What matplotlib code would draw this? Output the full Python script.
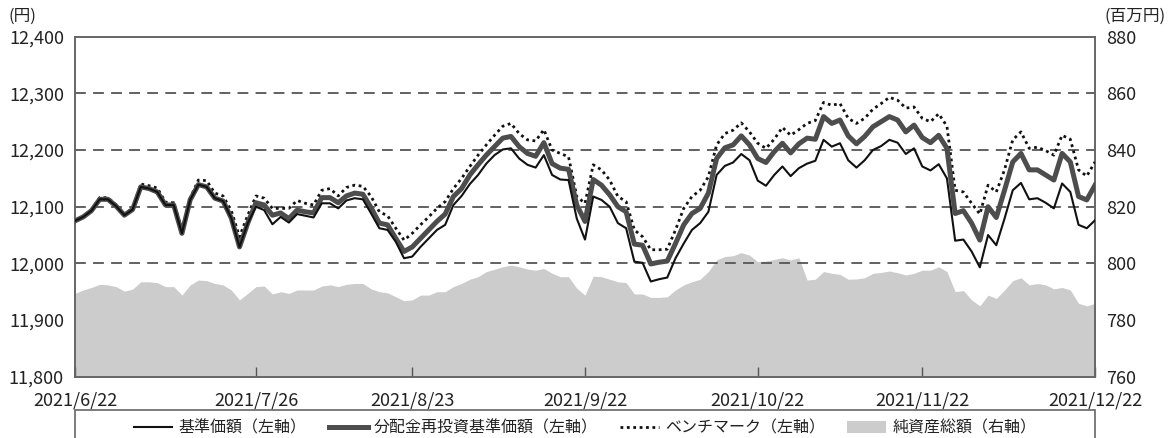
import numpy as np
import pandas as pd
import matplotlib
matplotlib.use("Agg")
import matplotlib.pyplot as plt
from matplotlib.patches import Rectangle
from matplotlib.lines import Line2D
from matplotlib.ticker import FuncFormatter

plt.rcParams['font.family'] = ['Noto Sans CJK JP', 'DejaVu Sans']

# -----------------------
# DATA
# -----------------------
holidays = ['2021-07-22', '2021-07-23', '2021-08-09', '2021-09-20',
            '2021-09-23', '2021-11-03', '2021-11-23']
dates = pd.bdate_range('2021-06-22', '2021-12-22')
dates = dates[~dates.isin(pd.to_datetime(holidays))]

tick_dates = ['2021-06-22', '2021-07-26', '2021-08-23', '2021-09-22',
              '2021-10-22', '2021-11-22', '2021-12-22']
tick_labels = ['2021/6/22', '2021/7/26', '2021/8/23', '2021/9/22',
               '2021/10/22', '2021/11/22', '2021/12/22']

# 基準価額
nav = [12075, 12082, 12093, 12113, 12113, 12101, 12085, 12095, 12135, 12132,
       12126, 12103, 12103, 12053, 12112, 12139, 12135, 12115, 12110, 12080,
       12029, 12071, 12100, 12094, 12069, 12082, 12072, 12087, 12084, 12081,
       12106, 12106, 12097, 12111, 12115, 12113, 12088, 12062, 12059, 12038,
       12009, 12012, 12029, 12044, 12059, 12068, 12103, 12119, 12140, 12156,
       12176, 12191, 12201, 12203, 12185, 12174, 12169, 12191, 12156, 12148,
       12147, 12079, 12042, 12118, 12112, 12100, 12071, 12062, 12003, 12001,
       11968, 11972, 11975, 12009, 12035, 12059, 12071, 12091, 12156, 12172,
       12178, 12193, 12182, 12146, 12137, 12156, 12171, 12154, 12168, 12176,
       12181, 12218, 12206, 12212, 12182, 12169, 12182, 12200, 12207, 12218,
       12213, 12193, 12203, 12171, 12164, 12175, 12150, 12040, 12042, 12021,
       11993, 12050, 12032, 12079, 12129, 12142, 12113, 12115, 12107, 12097,
       12141, 12126, 12068, 12062, 12076]

# 分配金再投資基準価額
nav_reinv = [12075, 12082, 12093, 12113, 12113, 12101, 12085, 12095, 12135, 12132,
             12126, 12103, 12103, 12053, 12112, 12139, 12135, 12115, 12110, 12080,
             12029, 12071, 12107, 12103, 12085, 12089, 12079, 12094, 12091, 12089,
             12116, 12116, 12107, 12119, 12124, 12122, 12098, 12071, 12068, 12044,
             12021, 12029, 12044, 12059, 12074, 12087, 12118, 12132, 12156, 12174,
             12191, 12206, 12221, 12224, 12206, 12194, 12189, 12213, 12176, 12168,
             12166, 12103, 12074, 12148, 12138, 12121, 12100, 12091, 12034, 12032,
             11999, 12002, 12004, 12035, 12068, 12088, 12097, 12124, 12185, 12204,
             12209, 12225, 12209, 12185, 12178, 12197, 12212, 12195, 12211, 12221,
             12219, 12259, 12247, 12253, 12225, 12211, 12224, 12241, 12250, 12259,
             12253, 12232, 12244, 12222, 12213, 12226, 12203, 12088, 12093, 12071,
             12041, 12100, 12081, 12129, 12179, 12194, 12165, 12165, 12156, 12147,
             12194, 12179, 12118, 12112, 12138]

# ベンチマーク
bench = [12076, 12083, 12094, 12116, 12116, 12103, 12087, 12097, 12140, 12137,
         12133, 12108, 12107, 12058, 12115, 12147, 12146, 12124, 12119, 12093,
         12047, 12085, 12119, 12115, 12097, 12097, 12097, 12111, 12106, 12103,
         12129, 12132, 12119, 12134, 12138, 12136, 12118, 12091, 12084, 12062,
         12041, 12053, 12068, 12082, 12097, 12109, 12132, 12150, 12171, 12191,
         12209, 12226, 12242, 12247, 12229, 12218, 12216, 12236, 12200, 12194,
         12188, 12118, 12106, 12174, 12165, 12147, 12118, 12109, 12059, 12047,
         12024, 12024, 12025, 12059, 12097, 12118, 12129, 12153, 12209, 12229,
         12235, 12248, 12232, 12212, 12203, 12219, 12240, 12226, 12236, 12247,
         12252, 12284, 12279, 12282, 12256, 12247, 12256, 12272, 12282, 12293,
         12288, 12274, 12276, 12256, 12250, 12264, 12242, 12129, 12126, 12106,
         12087, 12138, 12126, 12165, 12218, 12232, 12203, 12205, 12199, 12191,
         12226, 12219, 12165, 12154, 12179]

# 純資産総額（百万円）
assets = [789.4, 790.6, 791.5, 792.6, 792.4, 791.8, 790.2, 790.9, 793.5, 793.5,
          793.2, 791.8, 791.8, 788.8, 792.4, 794.1, 793.9, 792.9, 792.4, 790.6,
          787.1, 789.4, 791.8, 792.0, 789.2, 790.0, 789.4, 790.6, 790.6, 790.6,
          792.0, 792.4, 791.8, 792.6, 792.9, 792.9, 791.0, 790.0, 789.6, 788.2,
          786.8, 787.1, 788.8, 788.8, 790.0, 790.0, 791.8, 792.9, 794.4, 795.3,
          797.1, 797.9, 798.8, 799.4, 798.8, 798.0, 797.6, 798.2, 796.5, 795.3,
          795.3, 791.2, 788.8, 795.5, 795.3, 794.4, 793.5, 793.2, 789.2, 789.2,
          788.0, 788.0, 788.2, 790.6, 792.4, 793.5, 794.4, 797.1, 801.2, 802.4,
          802.7, 803.8, 802.9, 800.6, 800.8, 801.4, 802.0, 801.2, 802.0, 794.1,
          794.4, 797.1, 796.5, 796.1, 794.4, 794.5, 794.9, 796.5, 796.8, 797.3,
          796.7, 795.9, 796.5, 797.6, 797.6, 798.8, 797.1, 790.0, 790.4, 787.1,
          785.0, 788.8, 787.6, 790.6, 793.9, 794.9, 792.4, 792.9, 792.4, 791.0,
          791.5, 790.6, 785.9, 785.0, 785.9]

labels = ['基準価額（左軸）', '分配金再投資基準価額（左軸）',
          'ベンチマーク（左軸）', '純資産総額（右軸）']

# -----------------------
# FIGURE
# -----------------------
W, H = 1175, 438
fig = plt.figure(figsize=(W / 100, H / 100), dpi=100)
ax = fig.add_axes([75 / W, 1 - 376.7 / H, 1020 / W, 340 / H])
ax2 = ax.twinx()
ax.set_zorder(ax2.get_zorder() + 1)
ax.patch.set_visible(False)

x = np.arange(len(dates))

# area on the right axis
ax2.fill_between(x, 760, assets, color='#cccccc', lw=0)
ax2.set_ylim(760, 880)
ax2.set_yticks(np.arange(760, 881, 20))

# grid lines (only inside the range)
for g in [12000, 12100, 12200, 12300]:
    ax.axhline(g, color='#555555', lw=1.3, ls=(0, (6, 4)), zorder=1)

ax.plot(x, bench, color='#111111', lw=2.0, ls=(0, (1, 1.3)), zorder=3)
ax.plot(x, nav_reinv, color='#4d4d4d', lw=3.6, zorder=4)
ax.plot(x, nav, color='#111111', lw=1.5, zorder=5)

ax.set_xlim(0, len(dates) - 1)
ax.set_ylim(11800, 12400)
ax.set_yticks(np.arange(11800, 12401, 100))
ax.yaxis.set_major_formatter(FuncFormatter(lambda v, p: f'{int(v):,}'))

pos = [int(np.where(dates == pd.Timestamp(d))[0][0]) for d in tick_dates]
ax.set_xticks(pos)
ax.set_xticklabels(tick_labels)

ax.tick_params(axis='x', direction='in', length=7, width=1, color='#555555',
               pad=11, labelsize=13, labelcolor='#222222')
ax.tick_params(axis='y', length=0, pad=8, labelsize=13, labelcolor='#222222')
ax2.tick_params(axis='y', length=0, pad=8, labelsize=13, labelcolor='#222222')

for a in (ax, ax2):
    for s in a.spines.values():
        s.set_color('#666666')
        s.set_linewidth(1.2)

fig.text(8 / W, 1 - 16 / H, '(円)', fontsize=12, color='#222222', va='center')
fig.text(1105 / W, 1 - 16 / H, '(百万円)', fontsize=12, color='#222222', va='center')

# -----------------------
# LEGEND
# -----------------------
fig.patches.append(Rectangle((75 / W, -0.05), 1020 / W, 0.05 + 1 - 410 / H,
                             transform=fig.transFigure, fill=False,
                             edgecolor='#666666', lw=1.2))
handles = [Line2D([], [], color='#111111', lw=1.5),
           Line2D([], [], color='#4d4d4d', lw=3.6),
           Line2D([], [], color='#111111', lw=2.0, ls=(0, (1, 1.3))),
           Rectangle((0, 0), 1, 1, color='#cccccc', lw=0)]
fig.legend(handles, labels, loc='center', bbox_to_anchor=(0.498, 1 - 428 / H),
           ncol=4, frameon=False, fontsize=11.5, handlelength=2.4,
           handletextpad=0.4, columnspacing=1.4, labelcolor='#222222')

fig.savefig('out.png', dpi=100)
